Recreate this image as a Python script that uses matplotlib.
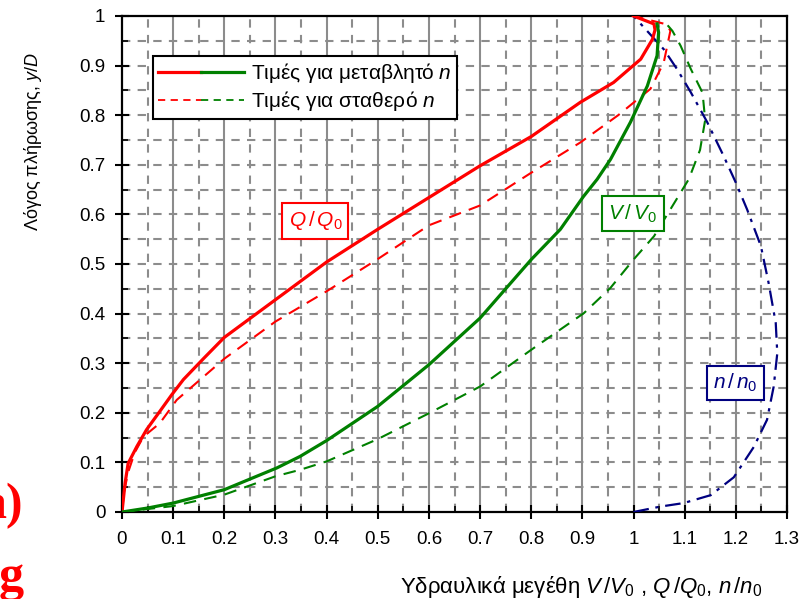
import matplotlib
matplotlib.use("Agg")
import matplotlib.pyplot as plt
from matplotlib.lines import Line2D
from matplotlib.legend_handler import HandlerTuple
from matplotlib.ticker import MultipleLocator, FixedLocator

plt.rcParams['font.family'] = ['Liberation Sans', 'DejaVu Sans']
plt.rcParams['mathtext.fontset'] = 'custom'
plt.rcParams['mathtext.rm'] = 'Liberation Sans'
plt.rcParams['mathtext.it'] = 'Liberation Sans:italic'

# ---- data ----
red_var_x = [0, 0.006, 0.012, 0.029, 0.048, 0.074, 0.097, 0.12, 0.16, 0.2, 0.3, 0.4, 0.5, 0.6, 0.7, 0.8,
             0.896, 0.961, 1.014, 1.037, 1.042, 1.040, 1.0]
red_var_y = [0, 0.058, 0.098, 0.132, 0.166, 0.203, 0.236, 0.267, 0.31, 0.352, 0.428, 0.504, 0.570, 0.634,
             0.698, 0.757, 0.826, 0.866, 0.913, 0.953, 0.972, 0.984, 1.0]

red_const_x = [0, 0.004, 0.012, 0.025, 0.042, 0.074, 0.107, 0.153, 0.2, 0.3, 0.4, 0.5, 0.6, 0.7, 0.8,
               0.896, 0.97, 1.033, 1.059, 1.072, 1.065, 1.0]
red_const_y = [0, 0.04, 0.08, 0.12, 0.152, 0.179, 0.226, 0.267, 0.309, 0.384, 0.445, 0.510, 0.578, 0.618,
               0.684, 0.745, 0.80, 0.853, 0.906, 0.97, 0.983, 1.0]

green_var_x = [0, 0.05, 0.1, 0.2, 0.303, 0.348, 0.4, 0.5, 0.6, 0.7, 0.8, 0.857, 0.902, 0.929, 0.955,
               0.994, 1.027, 1.046, 1.049, 1.046]
green_var_y = [0, 0.008, 0.018, 0.045, 0.089, 0.112, 0.144, 0.213, 0.297, 0.391, 0.509, 0.57, 0.636,
               0.671, 0.711, 0.786, 0.859, 0.92, 0.967, 0.984]

green_const_x = [0, 0.1, 0.2, 0.3, 0.348, 0.4, 0.5, 0.6, 0.7, 0.8, 0.857, 0.903, 0.955, 1.0, 1.04,
                 1.108, 1.13, 1.14, 1.135, 1.112, 1.092, 1.076, 1.066]
green_const_y = [0, 0.012, 0.035, 0.072, 0.085, 0.102, 0.147, 0.199, 0.253, 0.327, 0.368, 0.401, 0.452,
                 0.509, 0.556, 0.671, 0.73, 0.79, 0.845, 0.893, 0.94, 0.97, 0.982]

n_x = [1.0, 1.053, 1.098, 1.151, 1.196, 1.235, 1.261, 1.274, 1.281, 1.278, 1.264, 1.249, 1.222, 1.2,
       1.176, 1.144, 1.112, 1.085, 1.059, 1.0]
n_y = [0.0, 0.011, 0.018, 0.034, 0.07, 0.131, 0.186, 0.253, 0.32, 0.381, 0.462, 0.536, 0.61, 0.664,
       0.718, 0.786, 0.846, 0.893, 0.933, 1.0]

x_ticks = [0, 0.1, 0.2, 0.3, 0.4, 0.5, 0.6, 0.7, 0.8, 0.9, 1.0, 1.1, 1.2, 1.3]
x_labels = ['0', '0.1', '0.2', '0.3', '0.4', '0.5', '0.6', '0.7', '0.8', '0.9', '1', '1.1', '1.2', '1.3']
y_ticks = [0, 0.1, 0.2, 0.3, 0.4, 0.5, 0.6, 0.7, 0.8, 0.9, 1.0]
y_labels = ['0', '0.1', '0.2', '0.3', '0.4', '0.5', '0.6', '0.7', '0.8', '0.9', '1']

RED = '#ff0000'
GREEN = '#008000'
NAVY = '#000080'
GRID = '#8c8c8c'

fig = plt.figure(figsize=(8.02, 5.99), dpi=100)
W, H = 802, 599
ax = fig.add_axes([122 / W, 1 - 512 / H, (787 - 122) / W, (512 - 16) / H])

ax.set_xlim(0, 1.3)
ax.set_ylim(0, 1.0)

# grid
for xv in [i * 0.1 for i in range(1, 13)]:
    ax.axvline(xv, color=GRID, lw=1.5, zorder=0)
for xv in [0.05 + i * 0.1 for i in range(13)]:
    ax.axvline(xv, color=GRID, lw=1.5, ls=(0, (4, 3.5)), zorder=0)
for yv in [i * 0.05 for i in range(1, 20)]:
    ax.axhline(yv, color=GRID, lw=1.5, ls=(0, (4, 3.5)), zorder=0)

# curves
ax.plot(red_const_x, red_const_y, color=RED, lw=1.5, ls=(0, (6, 4)), zorder=3)
ax.plot(green_const_x, green_const_y, color=GREEN, lw=1.5, ls=(0, (6, 4)), zorder=3)
ax.plot(n_x, n_y, color=NAVY, lw=1.6, ls=(0, (7, 3, 1.5, 3)), zorder=3)
ax.plot(red_var_x, red_var_y, color=RED, lw=2.3, zorder=4)
ax.plot(green_var_x, green_var_y, color=GREEN, lw=2.3, zorder=4)

# ticks
ax.xaxis.set_major_locator(FixedLocator(x_ticks))
ax.set_xticklabels(x_labels)
ax.yaxis.set_major_locator(FixedLocator(y_ticks))
ax.set_yticklabels(y_labels)
ax.xaxis.set_minor_locator(MultipleLocator(0.05))
ax.yaxis.set_minor_locator(MultipleLocator(0.05))
ax.tick_params(which='major', direction='inout', length=10, width=1.5, labelsize=13.5, color='black')
ax.tick_params(axis='x', which='major', pad=9)
ax.tick_params(axis='y', which='major', pad=7)
ax.tick_params(which='minor', direction='in', length=4, width=1.2, color='black')
for s in ax.spines.values():
    s.set_linewidth(1.6)
    s.set_color('black')

# legend
h_var = (Line2D([], [], color=RED, lw=2.3), Line2D([], [], color=GREEN, lw=2.3))
h_const = (Line2D([], [], color=RED, lw=1.3, ls=(0, (4, 3))), Line2D([], [], color=GREEN, lw=1.3, ls=(0, (4, 3))))
leg = ax.legend([h_var, h_const],
                [r'Τιμές για μεταβλητό $\mathit{n}$', r'Τιμές για σταθερό $\mathit{n}$'],
                handler_map={tuple: HandlerTuple(ndivide=None, pad=0)},
                loc='upper left', bbox_to_anchor=((153 - 122) / 665, (512 - 56) / 496),
                borderaxespad=0, fontsize=15, handlelength=4.1, handletextpad=0.35,
                borderpad=0.25, labelspacing=0.2, fancybox=False, framealpha=1,
                edgecolor='black')
leg.get_frame().set_linewidth(1.5)
leg.set_zorder(6)

# annotation boxes
ax.text(0.378, 0.587, r'$\mathit{Q\,/\,Q}_{0}$', color=RED, fontsize=15, ha='center', va='center',
        bbox=dict(boxstyle='square,pad=0.3', fc='white', ec=RED, lw=1.5), zorder=5)
ax.text(0.999, 0.602, r'$\mathit{V\,/\,V}_{0}$', color=GREEN, fontsize=15, ha='center', va='center',
        bbox=dict(boxstyle='square,pad=0.3', fc='white', ec=GREEN, lw=1.5), zorder=5)
ax.text(1.199, 0.260, r'$\mathit{n\,/\,n}_{0}$', color=NAVY, fontsize=15, ha='center', va='center',
        bbox=dict(boxstyle='square,pad=0.3', fc='white', ec=NAVY, lw=1.5), zorder=5)

# axis labels
fig.text(33 / W, 1 - 142 / H, r'Λόγος πλήρωσης, $\mathit{y/D}$', rotation=90, fontsize=13,
         ha='center', va='center')
fig.text(762 / W, 1 - 593 / H,
         r'Υδραυλικά μεγέθη $\mathit{V\,/V}_{0}$ , $\mathit{Q\,/Q}_{0}$, $\mathit{n\,/n}_{0}$',
         fontsize=16, ha='right', va='baseline')

# clipped red labels at the left edge (partly outside the figure, as in the reference)
fig.text(23 / W, 1 - 518 / H, 'a)', color=RED, fontsize=36, fontweight='bold',
         family='Liberation Serif', ha='right', va='baseline')
fig.text(-1 / W, 1 - 590 / H, 'g', color=RED, fontsize=36, fontweight='bold',
         family='Liberation Serif', ha='left', va='baseline')

fig.savefig('out.png', dpi=100)
